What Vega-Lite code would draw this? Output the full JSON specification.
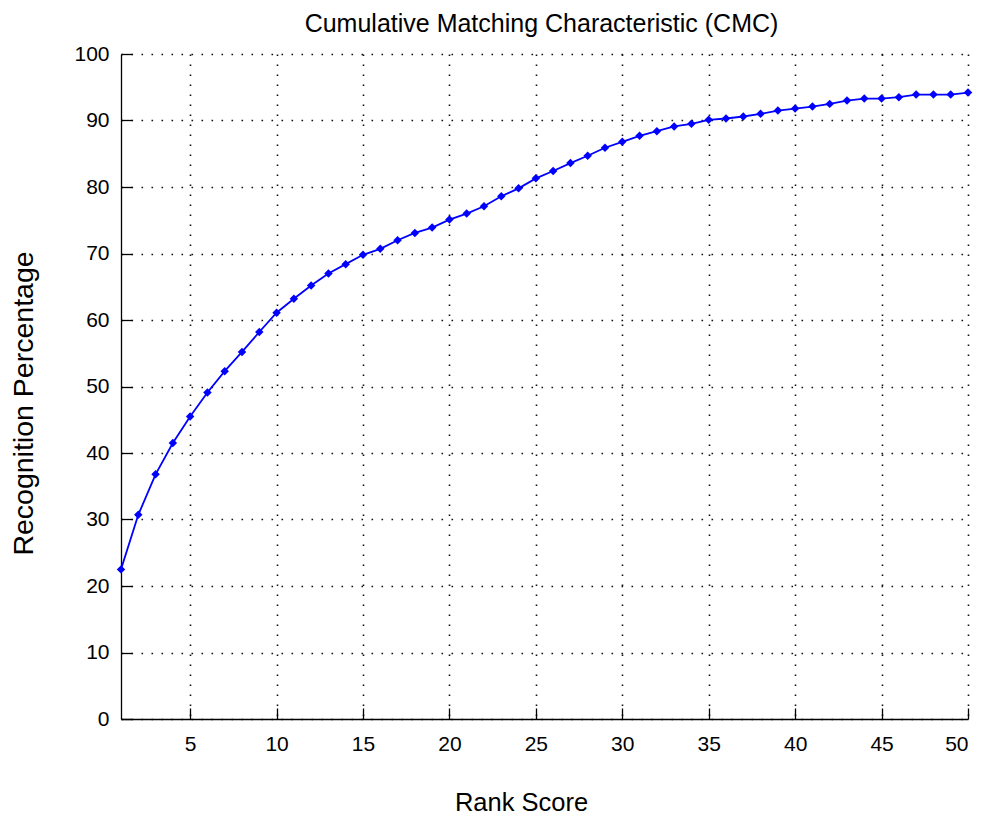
{
  "$schema": "https://vega.github.io/schema/vega-lite/v6.json",
  "width": 847,
  "height": 665,
  "autosize": {"type": "none"},
  "padding": {"left": 121, "top": 54, "right": 19, "bottom": 104},
  "background": "white",
  "title": {
    "text": "Cumulative Matching Characteristic (CMC)",
    "frame": "group",
    "anchor": "middle",
    "baseline": "alphabetic",
    "offset": 20,
    "dy": 34,
    "dx": -3,
    "fontSize": 25,
    "fontWeight": "normal",
    "font": "Liberation Sans",
    "color": "#000"
  },
  "config": {
    "view": {"stroke": null},
    "axis": {
      "labelFont": "Liberation Sans",
      "titleFont": "Liberation Sans",
      "labelColor": "#000",
      "titleColor": "#000",
      "titleFontWeight": "normal",
      "domainColor": "#000",
      "domainWidth": 1.3,
      "tickColor": "#000",
      "tickWidth": 1.3,
      "tickSize": -11,
      "gridColor": "#111",
      "gridDash": [1.6, 8.4],
      "gridWidth": 1.6,
      "gridOpacity": 1
    }
  },
  "data": {
    "values": [
      {"rank": 1, "pct": 22.5}, {"rank": 2, "pct": 30.7}, {"rank": 3, "pct": 36.8},
      {"rank": 4, "pct": 41.5}, {"rank": 5, "pct": 45.5}, {"rank": 6, "pct": 49.1},
      {"rank": 7, "pct": 52.3}, {"rank": 8, "pct": 55.2}, {"rank": 9, "pct": 58.2},
      {"rank": 10, "pct": 61.1}, {"rank": 11, "pct": 63.2}, {"rank": 12, "pct": 65.2},
      {"rank": 13, "pct": 67.0}, {"rank": 14, "pct": 68.4}, {"rank": 15, "pct": 69.8},
      {"rank": 16, "pct": 70.7}, {"rank": 17, "pct": 72.0}, {"rank": 18, "pct": 73.1},
      {"rank": 19, "pct": 73.9}, {"rank": 20, "pct": 75.1}, {"rank": 21, "pct": 76.0},
      {"rank": 22, "pct": 77.1}, {"rank": 23, "pct": 78.6}, {"rank": 24, "pct": 79.8},
      {"rank": 25, "pct": 81.3}, {"rank": 26, "pct": 82.4}, {"rank": 27, "pct": 83.6},
      {"rank": 28, "pct": 84.7}, {"rank": 29, "pct": 85.9}, {"rank": 30, "pct": 86.8},
      {"rank": 31, "pct": 87.7}, {"rank": 32, "pct": 88.4}, {"rank": 33, "pct": 89.1},
      {"rank": 34, "pct": 89.5}, {"rank": 35, "pct": 90.1}, {"rank": 36, "pct": 90.3},
      {"rank": 37, "pct": 90.6}, {"rank": 38, "pct": 91.0}, {"rank": 39, "pct": 91.5},
      {"rank": 40, "pct": 91.8}, {"rank": 41, "pct": 92.1}, {"rank": 42, "pct": 92.5},
      {"rank": 43, "pct": 93.0}, {"rank": 44, "pct": 93.3}, {"rank": 45, "pct": 93.3},
      {"rank": 46, "pct": 93.5}, {"rank": 47, "pct": 93.9}, {"rank": 48, "pct": 93.9},
      {"rank": 49, "pct": 93.9}, {"rank": 50, "pct": 94.2}
    ]
  },
  "encoding": {
    "x": {
      "field": "rank",
      "type": "quantitative",
      "scale": {"domain": [1, 50], "nice": false, "zero": false},
      "axis": {
        "title": "Rank Score",
        "values": [5, 10, 15, 20, 25, 30, 35, 40, 45, 50],
        "labelFontSize": 21,
        "labelPadding": 25,
        "titleFontSize": 25.5,
        "titleX": 400,
        "titleY": 91,
        "titleBaseline": "alphabetic"
      }
    },
    "y": {
      "field": "pct",
      "type": "quantitative",
      "scale": {"domain": [0, 100], "nice": false},
      "axis": {
        "title": "Recognition Percentage",
        "values": [0, 10, 20, 30, 40, 50, 60, 70, 80, 90, 100],
        "labelFontSize": 21,
        "labelPadding": 23,
        "titleFontSize": 28.5,
        "titleX": -98,
        "titleY": 349,
        "titleBaseline": "middle"
      }
    }
  },
  "layer": [
    {
      "mark": {"type": "line", "color": "#0000ff", "strokeWidth": 1.8}
    },
    {
      "mark": {"type": "point", "shape": "diamond", "filled": true, "color": "#0000ff", "size": 72, "opacity": 1}
    }
  ]
}
